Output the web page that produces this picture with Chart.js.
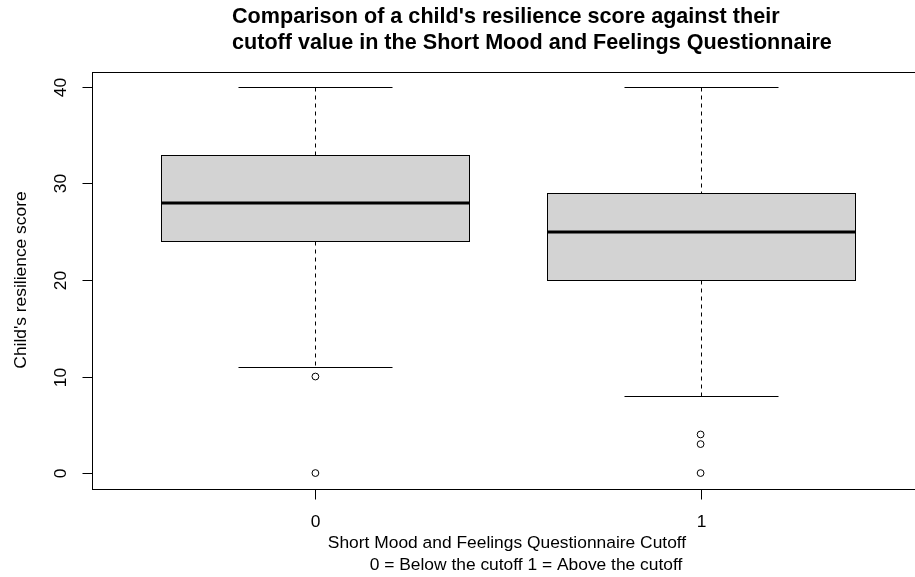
<!DOCTYPE html>
<html>
<head>
<meta charset="utf-8">
<script src="https://cdn.jsdelivr.net/npm/chart.js@4"></script>
<style>
  html, body { margin: 0; padding: 0; background: #ffffff; overflow: hidden; }
  #wrap { width: 915px; height: 577px; overflow: hidden; position: relative; }
  canvas { position: absolute; left: 0; top: 0; }
</style>
</head>
<body>
<div id="wrap"><canvas id="c" width="940" height="577"></canvas></div>
<script>
// Groups and five-number summaries of the resilience score
const categories = ['0', '1'];
const whiskerLow = [11, 8];
const lowerQuartile = [24, 20];
const medians = [28, 25];
const upperQuartile = [33, 29];
const whiskerHigh = [40, 40];
const outliers = [[10, 0], [4, 3, 0]];
const yTicks = [0, 10, 20, 30, 40];

const titleLines = [
  "Comparison of a child's resilience score against their",
  "cutoff value in the Short Mood and Feelings Questionnaire"
];
const xTitleLines = [
  "Short Mood and Feelings Questionnaire Cutoff",
  "0 = Below the cutoff 1 = Above the cutoff"
];
const yTitle = "Child's resilience score";

const FONT = '"Liberation Sans", Arial, Helvetica, sans-serif';

const outlierPoints = [];
outliers.forEach((vals, i) => vals.forEach(v => outlierPoints.push({ x: i + 1, y: v })));

const boxPlugin = {
  id: 'boxDraw',
  beforeDatasetsDraw(chart) {
    const ctx = chart.ctx;
    const xs = chart.scales.x, ys = chart.scales.y;
    const px = v => xs.getPixelForValue(v);
    const py = v => Math.round(ys.getPixelForValue(v)) + 0.5;
    ctx.save();
    categories.forEach((c, i) => {
      const cx = Math.round(px(i + 1)) + 0.5;
      const bl = Math.round(px(i + 1 - 0.4)) + 0.5;
      const br = Math.round(px(i + 1 + 0.4)) + 0.5;
      const cl = Math.round(px(i + 1 - 0.2)) + 0.5;
      const cr = Math.round(px(i + 1 + 0.2)) + 0.5;
      // dashed whiskers
      ctx.strokeStyle = '#000';
      ctx.lineWidth = 1;
      ctx.setLineDash([4, 4]);
      ctx.beginPath();
      ctx.moveTo(cx, py(whiskerHigh[i]));
      ctx.lineTo(cx, py(upperQuartile[i]));
      ctx.moveTo(cx, py(lowerQuartile[i]));
      ctx.lineTo(cx, py(whiskerLow[i]));
      ctx.stroke();
      ctx.setLineDash([]);
      // whisker caps
      ctx.beginPath();
      ctx.moveTo(cl, py(whiskerHigh[i]));
      ctx.lineTo(cr, py(whiskerHigh[i]));
      ctx.moveTo(cl, py(whiskerLow[i]));
      ctx.lineTo(cr, py(whiskerLow[i]));
      ctx.stroke();
      // box
      const top = py(upperQuartile[i]), bot = py(lowerQuartile[i]);
      ctx.fillStyle = '#d3d3d3';
      ctx.fillRect(bl, top, br - bl, bot - top);
      ctx.strokeRect(bl, top, br - bl, bot - top);
      // median
      ctx.lineWidth = 3;
      ctx.beginPath();
      const my = Math.round(ys.getPixelForValue(medians[i]));
      ctx.moveTo(bl, my);
      ctx.lineTo(br, my);
      ctx.stroke();
    });
    ctx.restore();
  },
  afterDraw(chart) {
    const ctx = chart.ctx;
    const a = chart.chartArea;
    const xs = chart.scales.x, ys = chart.scales.y;
    ctx.save();
    ctx.strokeStyle = '#000';
    ctx.lineWidth = 1;
    // frame
    const L = Math.round(a.left) + 0.5, T = Math.round(a.top) + 0.5;
    const R = Math.round(a.right) + 0.5, B = Math.round(a.bottom) + 0.5;
    ctx.strokeRect(L, T, R - L, B - T);
    // y axis ticks
    ctx.fillStyle = '#000';
    ctx.font = '17.4px ' + FONT;
    yTicks.forEach(t => {
      const y = Math.round(ys.getPixelForValue(t)) + 0.5;
      ctx.beginPath();
      ctx.moveTo(L - 10, y);
      ctx.lineTo(L, y);
      ctx.stroke();
      ctx.save();
      ctx.translate(66, y);
      ctx.rotate(-Math.PI / 2);
      ctx.textAlign = 'center';
      ctx.textBaseline = 'alphabetic';
      ctx.fillText(String(t), 0, 0);
      ctx.restore();
    });
    // x axis ticks
    categories.forEach((c, i) => {
      const x = Math.round(xs.getPixelForValue(i + 1)) + 0.5;
      ctx.beginPath();
      ctx.moveTo(x, B);
      ctx.lineTo(x, B + 10);
      ctx.stroke();
      ctx.textAlign = 'center';
      ctx.textBaseline = 'alphabetic';
      ctx.fillText(c, x, 527);
    });
    // axis titles
    const midX = (a.left + a.right) / 2;
    ctx.textAlign = 'center';
    ctx.fillText(xTitleLines[0], midX - 1, 548);
    ctx.fillText(xTitleLines[1], midX + 18, 570);
    ctx.save();
    ctx.translate(26, (a.top + a.bottom) / 2);
    ctx.rotate(-Math.PI / 2);
    ctx.fillText(yTitle, 0, 0);
    ctx.restore();
    // main title
    ctx.font = 'bold 21.6px ' + FONT;
    ctx.textAlign = 'left';
    ctx.fillText(titleLines[0], 232, 23);
    ctx.fillText(titleLines[1], 232, 49);
    ctx.restore();
  }
};

new Chart(document.getElementById('c'), {
  type: 'scatter',
  data: {
    datasets: [{
      data: outlierPoints,
      pointStyle: 'circle',
      pointRadius: 3.4,
      pointHoverRadius: 3.4,
      backgroundColor: '#ffffff',
      borderColor: '#000000',
      borderWidth: 1
    }]
  },
  options: {
    responsive: false,
    animation: false,
    events: [],
    layout: { padding: { left: 92, right: 16, top: 71.5, bottom: 88.5 } },
    plugins: { legend: { display: false }, tooltip: { enabled: false }, title: { display: false } },
    scales: {
      x: { type: 'linear', min: 0.42, max: 2.58, display: false },
      y: { type: 'linear', min: -1.6, max: 41.6, display: false }
    }
  },
  plugins: [boxPlugin]
});
</script>
</body>
</html>
